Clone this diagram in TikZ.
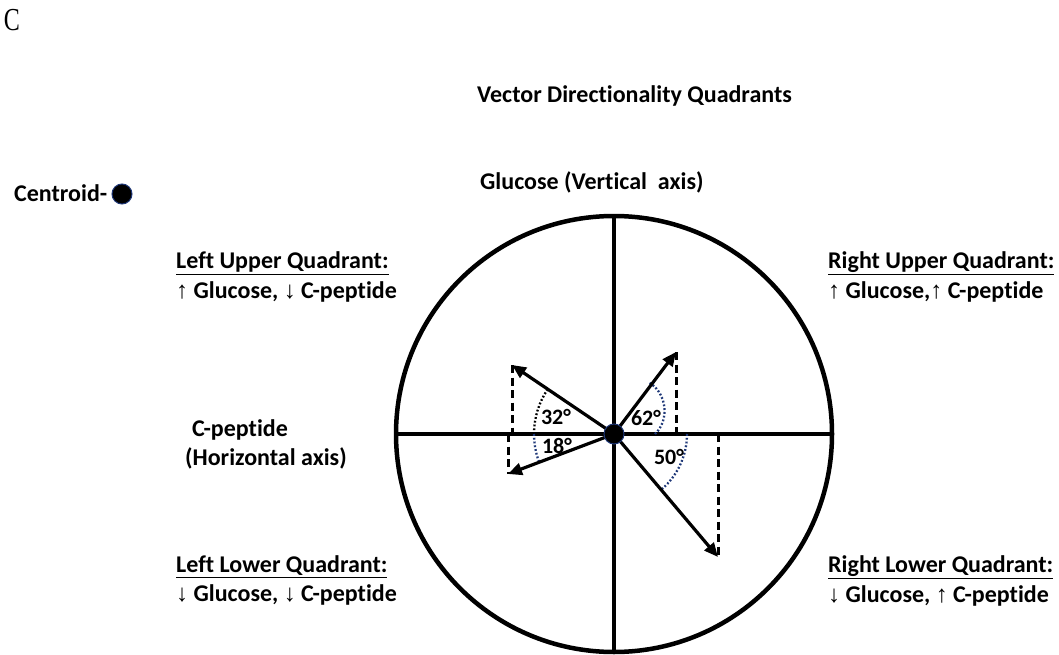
\documentclass[tikz,border=0pt]{standalone}
\usepackage{fontspec}
\setmainfont{Carlito}[Ligatures=NoCommon]
\newfontfamily\serifC{Liberation Serif}
\newfontfamily\arr{Liberation Sans}
\newcommand{\up}{{\arr\mdseries ↑}}
\newcommand{\dn}{{\arr\mdseries ↓}}
\usetikzlibrary{arrows.meta,calc}
\definecolor{arcblue}{RGB}{31,56,120}
\begin{document}
\begin{tikzpicture}[x=1pt,y=-1pt,
  txt/.style={font=\bfseries\fontsize{24}{28}\selectfont, inner sep=0},
  axis/.style={line width=4.5pt},
  vec/.style={line width=3.2pt, -{Triangle[length=14pt,width=12pt]}},
  proj/.style={line width=3pt, dash pattern=on 8pt off 4.5pt},
  angblue/.style={line width=2.3pt, arcblue, dash pattern=on 1.8pt off 2pt},
  angblack/.style={line width=2.3pt, black, dash pattern=on 1.8pt off 2pt},
  anglbl/.style={font=\bfseries\fontsize{22}{24}\selectfont, inner sep=0},
  dot/.style={circle, fill=black, draw=arcblue, line width=1pt, inner sep=0}]
\useasboundingbox (0,0) rectangle (1059,655);
\coordinate (O) at (614,434);
\node[draw, circle, line width=4.5pt, minimum size=436pt, inner sep=0, outer sep=0] (C) at (O) {};
\draw[axis] (C.north) -- (C.south);
\draw[axis] (C.west) -- (C.east);
% vector tips
\coordinate (ru) at (676,352);
\coordinate (lu) at (512,365);
\coordinate (ll) at (508,474);
\coordinate (rl) at (718,557);
\draw[proj] (ru) -- (ru |- O);
\draw[proj] (lu) -- (lu |- O);
\draw[proj] (ll |- O) -- (ll);
\draw[proj] (rl |- O) -- (rl);
% angle arcs
\draw[angblack] (O) ++(-146:80) arc[start angle=-146, end angle=-180, radius=80];
\draw[angblue] (O) ++(-180:80) arc[start angle=-180, end angle=-200, radius=80];
\draw[angblue] (O) ++(0:73) arc[start angle=0, end angle=49, radius=73];
\draw[angblue] ($(O)+(41,0)$) .. controls ($(O)+(56,-14)$) and ($(O)+(53,-42)$) .. ($(O)+(34,-52)$);
\draw[vec] (O) -- (ru);
\draw[vec] (O) -- (lu);
\draw[vec] (O) -- (ll);
\draw[vec] (O) -- (rl);
\node[dot, minimum size=20pt] (cdot) at (O) {};
\node[anglbl] (a32) at (556,417) {32°};
\node[anglbl] (a18) at (557,446) {18°};
\node[anglbl] (a62) at (646,418) {62°};
\node[anglbl] (a50) at (669,457) {50°};
% texts
\node[font=\serifC\fontsize{32}{36}\selectfont, xscale=0.75, inner sep=0] (lc) at (12,20) {C};
\node[txt, anchor=west] (title) at (477,96) {Vector Directionality Quadrants};
\node[txt, anchor=west] (glu) at (480,182) {Glucose (Vertical \ axis)};
\node[txt, anchor=west] (cen) at (14,193) {Centroid-};
\node[dot, minimum size=20pt] (cendot) at (122,194) {};
\node[txt, anchor=west] (lu1) at (176,263) {\underline{Left Upper Quadrant:}};
\node[txt, anchor=west] (lu2) at (176,292) {\up\ Glucose, \dn\ C-peptide};
\node[txt, anchor=west] (ru1) at (828,263) {\underline{Right Upper Quadrant:}};
\node[txt, anchor=west] (ru2) at (828,292) {\up\ Glucose,\up\ C-peptide};
\node[txt, anchor=west] (cp1) at (192,430) {C-peptide};
\node[txt, anchor=west] (cp2) at (185,458) {(Horizontal axis)};
\node[txt, anchor=west] (ll1) at (176,567) {\underline{Left Lower Quadrant:}};
\node[txt, anchor=west] (ll2) at (176,595) {\dn\ Glucose, \dn\ C-peptide};
\node[txt, anchor=west] (rl1) at (828,567) {\underline{Right Lower Quadrant:}};
\node[txt, anchor=west] (rl2) at (828,596) {\dn\ Glucose, \up\ C-peptide};
\end{tikzpicture}
\end{document}
